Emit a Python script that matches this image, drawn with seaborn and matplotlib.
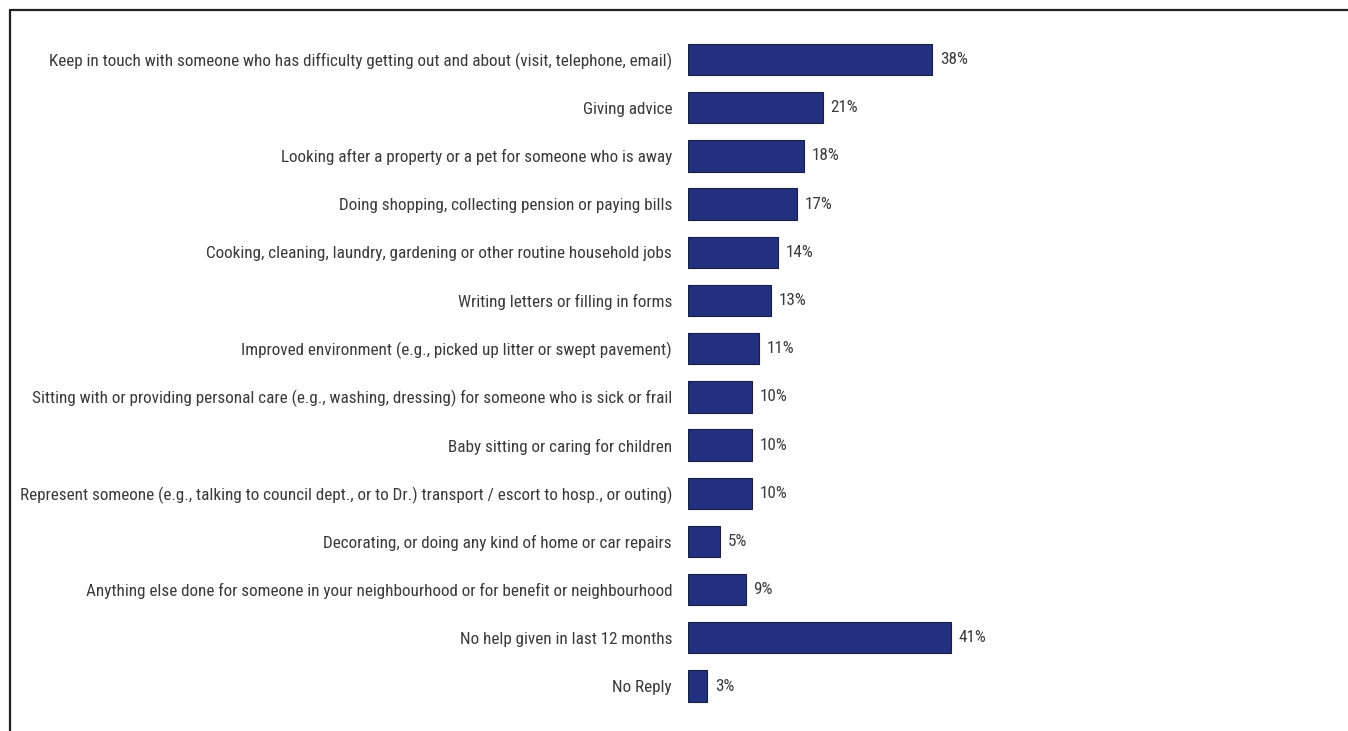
import matplotlib
matplotlib.use("Agg")
import matplotlib.pyplot as plt
from matplotlib import font_manager
from matplotlib.lines import Line2D
import seaborn as sns
import pandas as pd

categories = [
    "Keep in touch with someone who has difficulty getting out and about (visit, telephone, email)",
    "Giving advice",
    "Looking after a property or a pet for someone who is away",
    "Doing shopping, collecting pension or paying bills",
    "Cooking, cleaning, laundry, gardening or other routine household jobs",
    "Writing letters or filling in forms",
    "Improved environment (e.g., picked up litter or swept pavement)",
    "Sitting with or providing personal care (e.g., washing, dressing) for someone who is sick or frail",
    "Baby sitting or caring for children",
    "Represent someone (e.g., talking to council dept., or to Dr.) transport / escort to hosp., or outing)",
    "Decorating, or doing any kind of home or car repairs",
    "Anything else done for someone in your neighbourhood or for benefit or neighbourhood",
    "No help given in last 12 months",
    "No Reply",
]
values = [38, 21, 18, 17, 14, 13, 11, 10, 10, 10, 5, 9, 41, 3]

df = pd.DataFrame({"activity": categories, "pct": values})

sns.set_theme(style="white")

# prefer a narrow sans face for the long category labels
available = {f.name for f in font_manager.fontManager.ttflist}
narrow_candidates = ["Liberation Sans Narrow", "Roboto Condensed", "Open Sans Condensed",
                     "Noto Sans Condensed", "DejaVu Sans Condensed", "Noto Sans SemiCondensed",
                     "Open Sans SemiCondensed"]
family, stretch = None, "normal"
for cand in narrow_candidates:
    if cand in available:
        family = cand
        break
if family is None:
    family, stretch = "DejaVu Sans", "condensed"
plt.rcParams["font.family"] = [family, "DejaVu Sans"]
plt.rcParams["font.stretch"] = stretch

W, H = 1348, 731
fig = plt.figure(figsize=(W / 100, H / 100), dpi=100)

# pick a label size so the longest label spans about 650 px
renderer = fig.canvas.get_renderer()
probe = fig.text(0, 0, max(categories, key=len), fontsize=10, fontstretch=stretch)
w10 = probe.get_window_extent(renderer).width
probe.remove()
label_size = 10 * 650 / w10

ax = fig.add_axes([688 / W, 1 - 710.1 / H, 642 / W, (710.1 - 35.4) / H])

bar_color = "#233080"
text_color = "#3a3a3a"

sns.barplot(data=df, x="pct", y="activity", orient="h", color=bar_color,
            saturation=1, width=0.65, edgecolor="#1a1f40", linewidth=0.8, ax=ax)

ax.set_xlim(0, 100)
ax.set_ylim(len(categories) - 0.5, -0.5)
ax.set_xlabel("")
ax.set_ylabel("")
ax.set_xticks([])
for s in ax.spines.values():
    s.set_visible(False)
ax.tick_params(axis="y", length=0, pad=11.5, labelsize=label_size, labelcolor=text_color)
for t in ax.get_yticklabels():
    t.set_fontstretch(stretch)

for i, v in enumerate(values):
    ax.text(v + 1.2, i, f"{v}%", va="center", ha="left", fontsize=label_size,
            fontstretch=stretch, color=text_color)

# frame lines along top and left edge
fig.add_artist(Line2D([9.5 / W, 1.0], [1 - 9.5 / H, 1 - 9.5 / H], color="#222222",
                      linewidth=1.6, transform=fig.transFigure))
fig.add_artist(Line2D([9.5 / W, 9.5 / W], [1 - 9.5 / H, 0.0], color="#222222",
                      linewidth=1.6, transform=fig.transFigure))

fig.savefig("out.png", dpi=100, facecolor="white")
